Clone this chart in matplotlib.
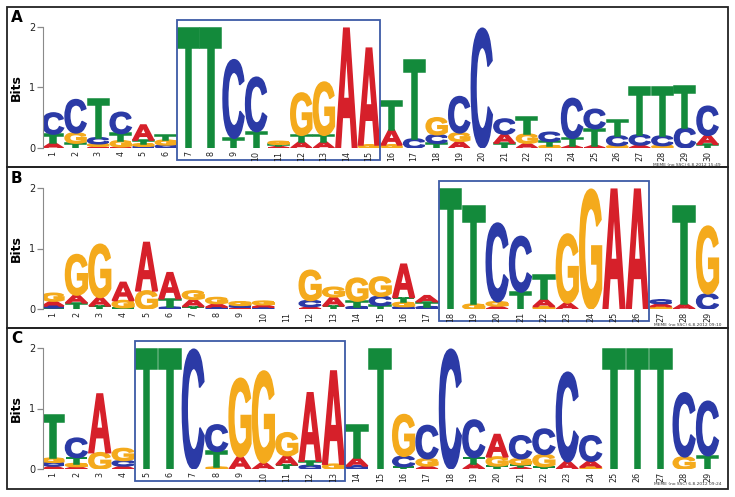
import matplotlib
matplotlib.use('Agg')
import matplotlib.pyplot as plt
from matplotlib.textpath import TextPath
from matplotlib.patches import PathPatch, Rectangle
from matplotlib.font_manager import FontProperties
from matplotlib.transforms import Affine2D

# ---------------- data (information content, bits) ----------------
# Panel A : 30 positions
a_A = [.08, 0, .03, .02, .25, 0, 0, 0, 0, 0, .025, .10, .10, 1.98, 1.60, .25, 0, 0, .11, 0, .15, .08, 0, .04, .04, 0, .05, 0, 0, .15]
a_C = [.35, .55, .10, .35, .03, .05, 0, 0, 1.30, .90, 0, 0, 0, 0, 0, 0, .15, .14, .60, 1.98, .25, 0, .15, .66, .32, .16, .17, .16, .33, .48]
a_G = [0, .17, .04, .10, .04, .08, 0, 0, 0, 0, .05, .70, .88, 0, .05, .05, 0, .28, .14, 0, 0, .15, .04, 0, 0, .04, 0, .04, 0, 0]
a_T = [.15, .08, .64, .12, .06, .09, 1.98, 1.98, .16, .27, .035, .11, .11, 0, 0, .47, 1.31, .08, 0, 0, .08, .28, .07, .12, .28, .27, .78, .80, .70, .06]

# Panel B : 29 positions
b_A = [.08, .13, .14, .30, .80, .43, .12, .06, .03, .04, 0, .04, .15, 0, 0, .55, .10, 0, 0, .05, 0, .12, .10, 0, 1.98, 1.98, .05, .08, 0]
b_C = [.03, 0, 0, 0, 0, .03, 0, .03, .03, .03, 0, .10, 0, .04, .15, .04, .04, 0, 0, 1.30, .92, 0, 0, 0, 0, 0, .06, 0, .25]
b_G = [.13, .67, .88, .12, .30, 0, .14, .10, .06, .06, 0, .50, .16, .38, .32, .07, 0, 0, .08, .07, 0, .04, 1.14, 1.98, 0, 0, .04, 0, 1.12]
b_T = [.02, .10, .05, .02, 0, .14, .04, 0, 0, 0, 0, 0, .05, .09, .06, .08, .08, 1.98, 1.62, 0, .28, .40, 0, 0, 0, 0, 0, 1.62, 0]

# Panel C : 29 positions
c_A = [.05, .04, .97, .05, 0, 0, 0, 0, .20, .10, .15, 1.13, 1.54, .13, 0, 0, .05, 0, .09, .37, .03, 0, .12, .10, 0, 0, 0, 0, 0]
c_C = [.06, .32, 0, .09, 0, 0, 1.98, .44, 0, 0, 0, .06, 0, .05, 0, .17, .55, 1.98, .62, 0, .38, .42, 1.48, .42, 0, 0, 0, 1.06, .90]
c_G = [.07, .05, .27, .20, 0, 0, 0, .03, 1.30, 1.52, .38, 0, .08, 0, 0, .69, .12, 0, 0, .15, .10, .20, 0, .03, 0, 0, 0, .20, 0]
c_T = [.72, .10, 0, 0, 1.98, 1.98, 0, .26, 0, 0, .07, .07, 0, .54, 1.98, .04, 0, 0, .10, .05, .04, .04, 0, 0, 1.98, 1.98, 1.98, 0, .22]

panel_labels = ['A', 'B', 'C']
motif_boxes = [(7, 15), (18, 26), (5, 13)]   # first/last position inside blue box
stamps = ['MEME (no SSC) 6.8.2012 15:49', 'MEME (no SSC) 6.8.2012 09:10', 'MEME (no SSC) 6.8.2012 09:24']
y_ticks = [0, 1, 2]

# ---------------- styling ----------------
W, H = 735, 497
colors = {'A': '#d6202a', 'C': '#2b3aa6', 'G': '#f4aa1c', 'T': '#138a3b'}
fp = FontProperties(family='Liberation Sans', weight='bold')
glyphs = {b: TextPath((0, 0), b, size=1, prop=fp) for b in 'ACGT'}

fig = plt.figure(figsize=(W / 100, H / 100), dpi=100)

def draw_letter(ax, base, x, y, h, w=0.93):
    p = glyphs[base]
    ext = p.get_extents()
    tr = (Affine2D().translate(-ext.x0, -ext.y0)
          .scale(w / ext.width, h / ext.height)
          .translate(x - w / 2, y))
    ax.add_patch(PathPatch(p, transform=tr + ax.transData,
                           facecolor=colors[base], edgecolor=colors[base],
                           linewidth=1.1, joinstyle='miter'))

panel_data = [(a_A, a_C, a_G, a_T), (b_A, b_C, b_G, b_T), (c_A, c_C, c_G, c_T)]
y0_px = [148, 309, 469]          # pixel row of 0 bits
frames = [(7, 167), (167, 328), (328, 489)]
label_y = [10, 171, 331]
stamp_y = [165, 325, 484]
px_per_bit = 60.5
ax_left, ax_right = 43, 727

for k in range(3):
    As, Cs, Gs, Ts = panel_data[k]
    n = len(As)
    y0 = y0_px[k]
    ymax = 2.2
    ax = fig.add_axes([ax_left / W, (H - y0) / H, (ax_right - ax_left) / W,
                       ymax * px_per_bit / H])
    scale = (707.5 - 53) / (n - 1)
    xl = 1 - (53 - ax_left) / scale
    ax.set_xlim(xl, xl + (ax_right - ax_left) / scale)
    ax.set_ylim(0, ymax)

    for i in range(n):
        col = sorted(zip([As[i], Cs[i], Gs[i], Ts[i]], 'ACGT'), key=lambda t: t[0])
        ybase = 0
        for h, b in col:
            if h > 0:
                draw_letter(ax, b, i + 1, ybase, h)
                ybase += h

    # motif box
    s, e = motif_boxes[k]
    ax.add_patch(Rectangle((s - 0.5, -0.2), e - s + 1, 2.32, fill=False,
                           edgecolor='#3d5aa6', linewidth=1.3, clip_on=False))

    for sp in ['top', 'right', 'bottom']:
        ax.spines[sp].set_visible(False)
    ax.spines['left'].set_color('#8a8a8a')
    ax.spines['left'].set_bounds(0, 2)
    ax.set_yticks(y_ticks)
    ax.set_yticklabels([str(t) for t in y_ticks], fontsize=7, color='#222222')
    ax.tick_params(axis='y', length=4, width=0.9, color='#8a8a8a', pad=1.5)
    ax.set_xticks(range(1, n + 1))
    ax.set_xticklabels([str(i) for i in range(1, n + 1)], rotation=90,
                       fontsize=5.8, color='#222222')
    ax.tick_params(axis='x', length=0, pad=2)
    ax.set_ylabel('Bits', fontsize=9, fontweight='bold')
    ax.yaxis.set_label_coords(-(ax_left - 23) / (ax_right - ax_left), 1 / ymax)
    ax.patch.set_alpha(0)

    # panel frame
    t, b = frames[k]
    fig.patches.append(Rectangle((7 / W, 1 - b / H), (728 - 7) / W, (b - t) / H,
                                 transform=fig.transFigure, fill=False,
                                 edgecolor='#222222', linewidth=1.3))
    fig.text(11 / W, 1 - label_y[k] / H, panel_labels[k], fontsize=11,
             fontweight='bold', ha='left', va='top')
    fig.text(721 / W, 1 - stamp_y[k] / H, stamps[k], fontsize=3.2,
             ha='right', va='center', color='#333333')

fig.savefig('out.png', dpi=100)
